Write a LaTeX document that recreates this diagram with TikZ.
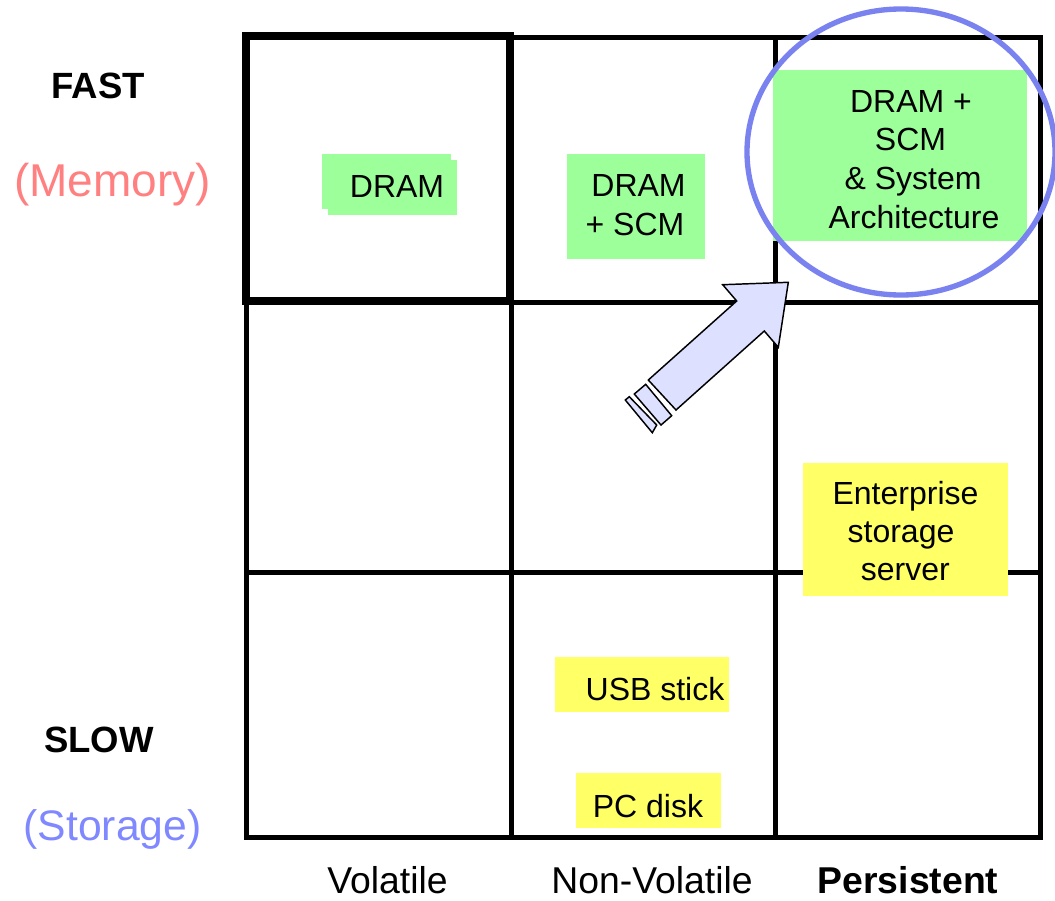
\documentclass[tikz,border=0pt]{standalone}
\usepackage{fontspec}
\setmainfont{Liberation Sans}
\definecolor{boxgreen}{RGB}{156,255,154}
\definecolor{boxyellow}{RGB}{255,255,102}
\definecolor{memred}{RGB}{255,128,128}
\definecolor{storblue}{RGB}{128,136,255}
\definecolor{ringblue}{RGB}{122,130,240}
\definecolor{arrowfill}{RGB}{221,224,255}
\tikzset{
  gridline/.style={line width=3.75pt, line cap=rect},
  thickcell/.style={line width=5.4pt},
  lbl/.style={anchor=base, inner sep=0pt, outer sep=0pt},
  boxtxt/.style={lbl, font=\fontsize{24}{29}\selectfont},
  axistxt/.style={lbl, font=\fontsize{28}{33}\selectfont},
  speedtxt/.style={lbl, font=\fontsize{27.4}{32}\selectfont\bfseries},
  greenbox/.style={fill=boxgreen},
  yellowbox/.style={fill=boxyellow},
  bigarrow/.style={draw=black, fill=arrowfill, line width=1.1pt, line join=miter},
  ring/.style={draw=ringblue, line width=4pt}
}
\begin{document}
\begin{tikzpicture}[x=0.75pt,y=-0.75pt]
\useasboundingbox (0,0) rectangle (1055,900);
% grid
\draw[gridline] (246,37) -- (1040,37);
\draw[gridline] (246,302) -- (1040,302);
\draw[gridline] (246,572) -- (1040,572);
\draw[gridline] (246,837) -- (1040,837);
\draw[gridline] (246,37) -- (246,837);
\draw[gridline] (511,37) -- (511,837);
\draw[gridline] (775,37) -- (775,837);
\draw[gridline] (1040,37) -- (1040,837);
\draw[thickcell] (246,36) rectangle (510,301);
% boxes
\path[greenbox] (322,154) rectangle (451,209);
\path[greenbox] (328,160) rectangle (457,215);
\path[greenbox] (567,154) rectangle (705,259);
\path[greenbox] (773,70) rectangle (1027,241);
\path[yellowbox] (803,463) rectangle (1008,596);
\path[yellowbox] (555,657) rectangle (729,712);
\path[yellowbox] (576,773) rectangle (721,828);
% box texts
\node[boxtxt] (dram1) at (397,197) {DRAM};
\node[boxtxt] (dram2a) at (638.5,196.7) {DRAM};
\node[boxtxt] (dram2b) at (635,235) {+ SCM};
\node[boxtxt] (dram3a) at (911,112.3) {DRAM +};
\node[boxtxt] (dram3b) at (910.5,150.7) {SCM};
\node[boxtxt] (dram3c) at (913,189) {\& System};
\node[boxtxt] (dram3d) at (914,228.3) {Architecture};
\node[boxtxt] (ent1) at (905.5,504) {Enterprise};
\node[boxtxt] (ent2) at (901,542) {storage};
\node[boxtxt] (ent3) at (905.3,580) {server};
\node[boxtxt] (usb) at (655,700) {USB stick};
\node[boxtxt] (pcdisk) at (648,817.7) {PC disk};
% ring
\draw[ring] (901,152) ellipse [x radius=154, y radius=143];
% block arrow
\draw[bigarrow] (648.3,380) -- (736.7,301) -- (722.7,284.7) -- (788.3,282.3)
  -- (778.3,347.3) -- (764.3,331) -- (676,410) -- cycle;
\draw[bigarrow] (634.3,394) -- (645.7,384.3) -- (671.7,415.7) -- (661,425) -- cycle;
\draw[bigarrow] (625.3,400) -- (629.3,396.7) -- (656.7,425) -- (652.3,432.7) -- cycle;
% side labels
\node[speedtxt] (fast) at (98,98) {FAST};
\node[lbl, font=\fontsize{34.5}{40}\selectfont, text=memred] (memory) at (112.5,196) {(Memory)};
\node[speedtxt] (slow) at (99,752.5) {SLOW};
\node[lbl, font=\fontsize{32}{38}\selectfont, text=storblue] (storage) at (112.5,840) {(Storage)};
% bottom labels
\node[axistxt] (volatile) at (387.5,893) {Volatile};
\node[axistxt] (nonvolatile) at (652,893) {Non-Volatile};
\node[axistxt, font=\fontsize{28}{33}\selectfont\bfseries] (persistent) at (908,893) {Persistent};
\end{tikzpicture}
\end{document}
